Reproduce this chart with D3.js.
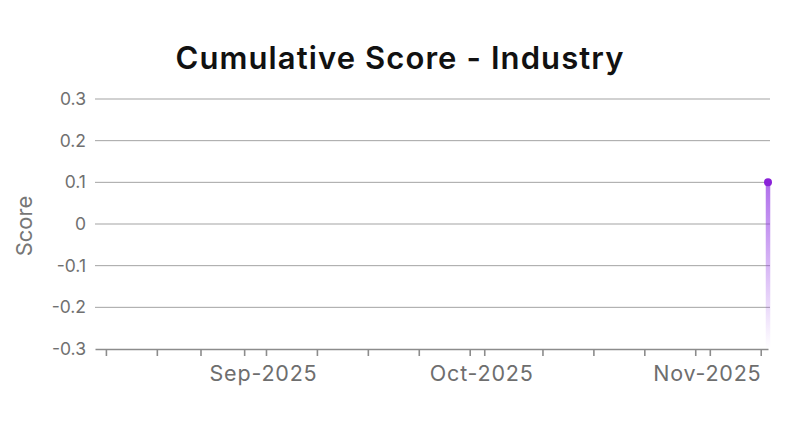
<!DOCTYPE html>
<html>
<head>
<meta charset="utf-8">
<script src="https://cdn.jsdelivr.net/npm/d3@7"></script>
<style>
  html, body { margin: 0; padding: 0; background: #fff; }
  svg { display: block; font-family: Inter, "Noto Sans", sans-serif; }
</style>
</head>
<body>
<svg id="chart" width="800" height="431"></svg>
<script>
// ---- data ----
const titleText = "Cumulative Score - Industry";
const yAxisTitle = "Score";
const seriesDates = ["2025-11-09"];
const seriesScores = [0.1];
const xDomainStart = "2025-08-08T12:00:00Z";
const yTicks = [0.3, 0.2, 0.1, 0, -0.1, -0.2, -0.3];
const yTickLabels = ["0.3", "0.2", "0.1", "0", "-0.1", "-0.2", "-0.3"];
const weekTickDates = ["2025-08-10", "2025-08-17", "2025-08-23", "2025-08-29",
  "2025-09-08", "2025-09-15", "2025-09-22", "2025-09-29",
  "2025-10-09", "2025-10-16", "2025-10-23", "2025-10-30", "2025-11-08"];
const monthTickDates = ["2025-09-01", "2025-10-01", "2025-11-01"];
const monthTickLabels = ["Sep-2025", "Oct-2025", "Nov-2025"];

(function () {
// ---- layout ----
const W = 800, H = 431;
const mLeft = 95, mRight = 768, mTop = 99, mBottom = 349;
const svg = d3.select("#chart");
const parse = s => new Date(s.length === 10 ? s + "T00:00:00Z" : s);

const data = seriesDates.map((d, i) => ({ date: parse(d), score: seriesScores[i] }));

const x = d3.scaleUtc()
  .domain([parse(xDomainStart), d3.max(data, d => d.date)])
  .range([mLeft, mRight]);
const y = d3.scaleLinear().domain([-0.3, 0.3]).range([mBottom, mTop]);

// title
svg.append("text")
  .attr("x", W / 2).attr("y", 69)
  .attr("text-anchor", "middle")
  .attr("font-size", 31).attr("font-weight", 600).attr("fill", "#111")
  .attr("letter-spacing", 1.1)
  .text(titleText);

// gridlines
svg.append("g").selectAll("line")
  .data(yTicks.filter(v => v !== -0.3))
  .join("line")
  .attr("x1", mLeft).attr("x2", mRight + 2)
  .attr("y1", d => y(d)).attr("y2", d => y(d))
  .attr("stroke", "#a3a3a3").attr("stroke-width", 1);

// y axis labels
const yAxis = d3.axisLeft(y).tickValues(yTicks)
  .tickFormat((d, i) => yTickLabels[i]).tickSize(0).tickPadding(9);
const gy = svg.append("g").attr("transform", `translate(${mLeft},0)`).call(yAxis);
gy.select(".domain").remove();
gy.selectAll("text").attr("font-size", 17.5).attr("fill", "#707070")
  .attr("font-family", "Inter, sans-serif");

// y axis title
svg.append("text")
  .attr("transform", "translate(32,226) rotate(-90)")
  .attr("text-anchor", "middle")
  .attr("font-size", 22).attr("fill", "#767676")
  .text(yAxisTitle);

// x axis
const monthDates = monthTickDates.map(parse);
const allTicks = weekTickDates.map(parse).concat(monthDates).sort((a, b) => a - b);
const labelFor = d => {
  const i = monthDates.findIndex(m => +m === +d);
  return i >= 0 ? monthTickLabels[i] : "";
};
const xAxis = d3.axisBottom(x).tickValues(allTicks).tickFormat(labelFor)
  .tickSize(7).tickSizeOuter(0).tickPadding(10);
const gx = svg.append("g").attr("transform", `translate(0,${mBottom})`).call(xAxis);
gx.select(".domain").attr("stroke", "#8c8c8c").attr("stroke-width", 1.6);
gx.selectAll(".tick line").attr("stroke", "#8c8c8c").attr("stroke-width", 1.6);
gx.selectAll("text").attr("font-size", 21.5).attr("fill", "#6e6e6e")
  .attr("font-family", "Inter, sans-serif")
  .attr("letter-spacing", 0.8).attr("dx", -3);

// gradient area (single point -> vertical strip)
const defs = svg.append("defs");
const grad = defs.append("linearGradient").attr("id", "areaGrad")
  .attr("gradientUnits", "userSpaceOnUse")
  .attr("x1", 0).attr("x2", 0)
  .attr("y1", y(d3.max(data, d => d.score))).attr("y2", y(-0.3));
grad.append("stop").attr("offset", "0%").attr("stop-color", "#8a2be2").attr("stop-opacity", 0.68);
grad.append("stop").attr("offset", "100%").attr("stop-color", "#8a2be2").attr("stop-opacity", 0);

svg.append("g").selectAll("line.strip")
  .data(data).join("line")
  .attr("class", "strip")
  .attr("x1", d => x(d.date)).attr("x2", d => x(d.date))
  .attr("y1", d => y(d.score)).attr("y2", y(-0.3))
  .attr("stroke", "url(#areaGrad)").attr("stroke-width", 4.5);

svg.append("g").selectAll("circle")
  .data(data).join("circle")
  .attr("cx", d => x(d.date)).attr("cy", d => y(d.score))
  .attr("r", 4).attr("fill", "#8a22d8");
})();
</script>
</body>
</html>
